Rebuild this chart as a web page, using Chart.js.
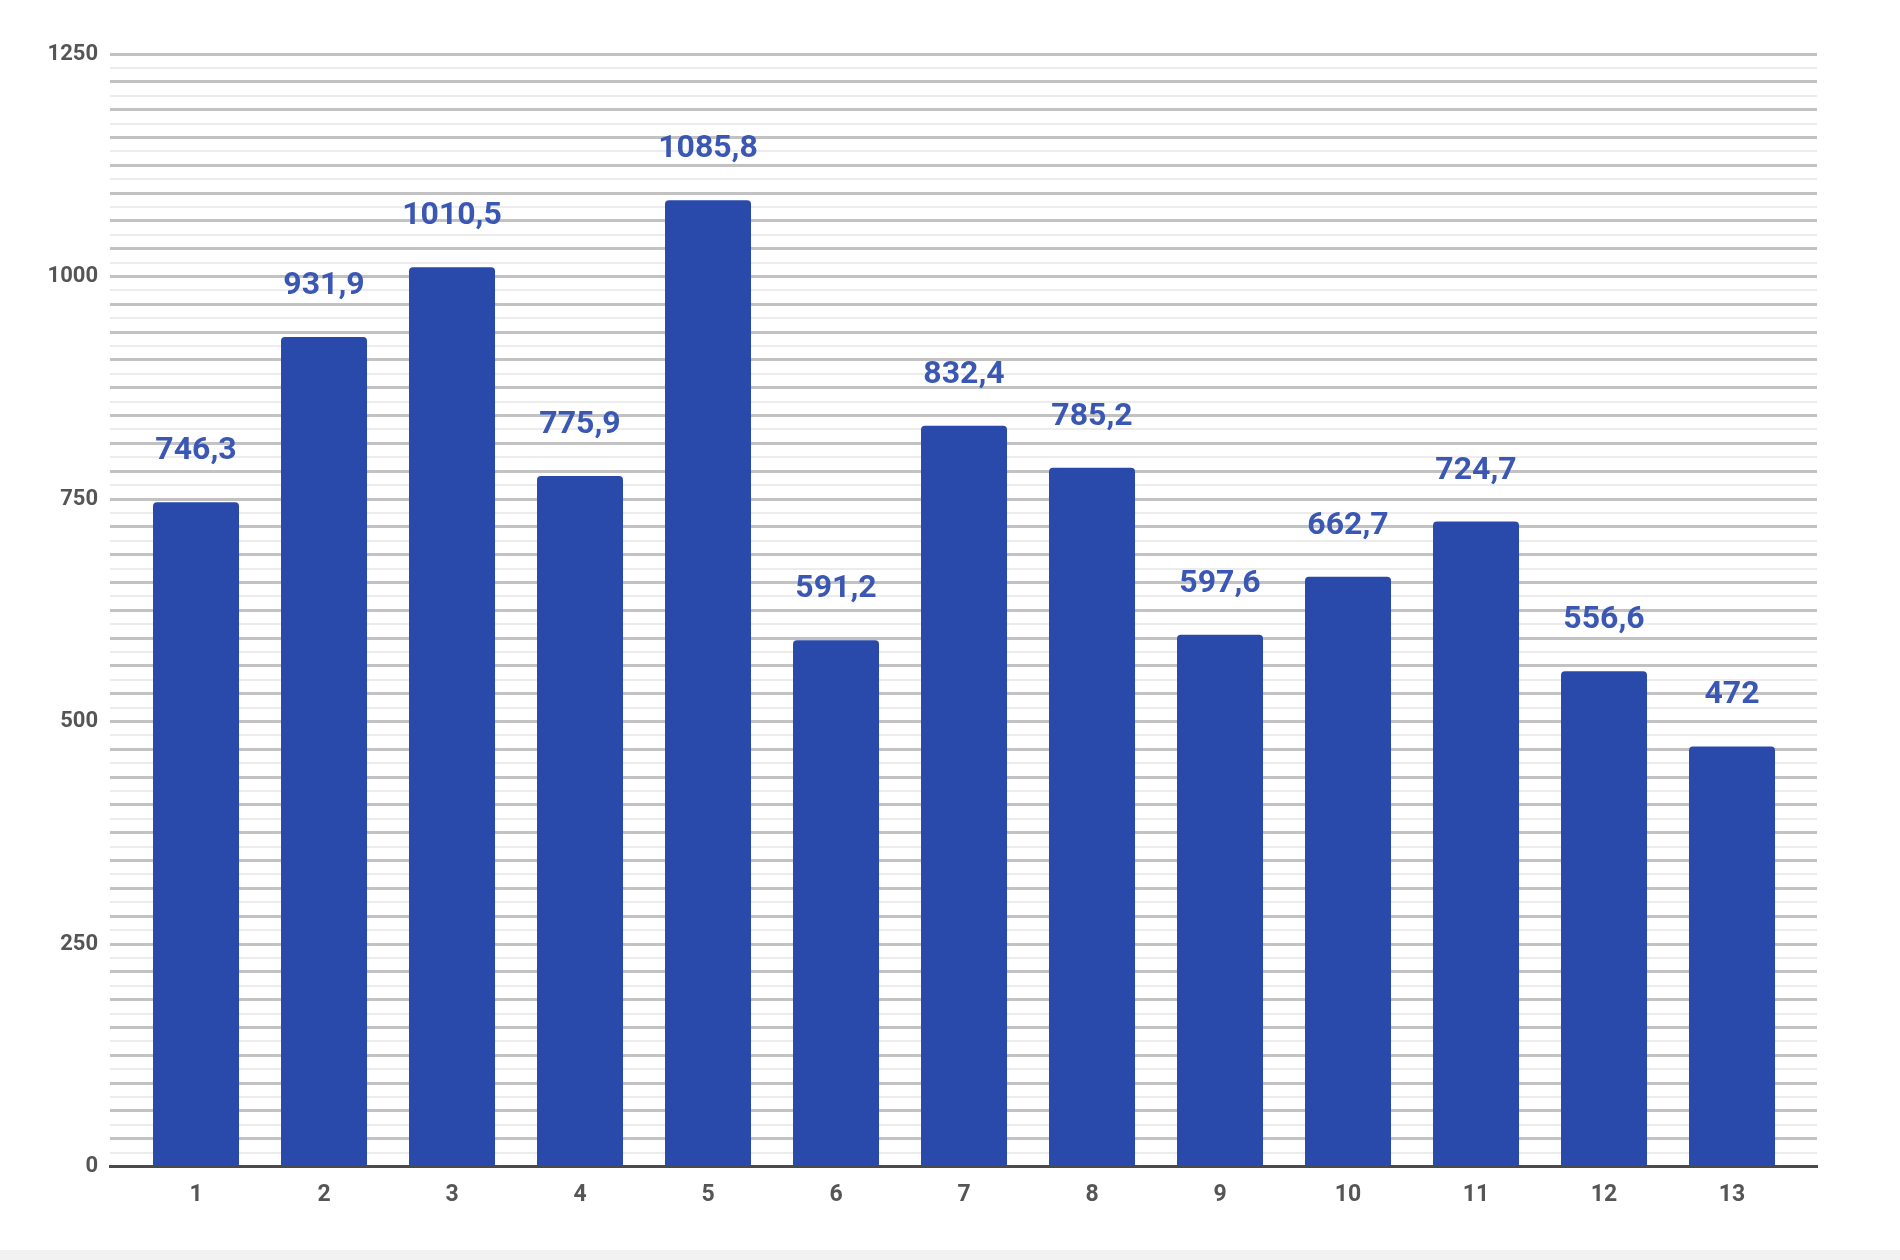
<!DOCTYPE html>
<html>
<head>
<meta charset="utf-8">
<script src="https://cdn.jsdelivr.net/npm/chart.js@4.4.1/dist/chart.umd.min.js"></script>
<style>
  html, body { margin: 0; padding: 0; background: #fff; }
  #wrap { position: relative; width: 1900px; height: 1260px; }
  #strip { position: absolute; left: 0; right: 0; bottom: 0; height: 10px; background: #f2f2f2; }
</style>
</head>
<body>
<div id="wrap">
  <canvas id="chart" width="1900" height="1260"></canvas>
  <div id="strip"></div>
</div>
<script>
// Data
const categories = ['1', '2', '3', '4', '5', '6', '7', '8', '9', '10', '11', '12', '13']
const values = [746.3, 931.9, 1010.5, 775.9, 1085.8, 591.2, 832.4, 785.2, 597.6, 662.7, 724.7, 556.6, 472]
const yTicks = [0, 250, 500, 750, 1000, 1250]

const BAR_COLOR = '#2a4aab'
const LABEL_COLOR = '#3a57b3'
const TICK_COLOR = '#555'

// value labels above the bars, comma decimal
const valueLabels = {
  id: 'valueLabels',
  afterDatasetsDraw(chart) {
    const ctx = chart.ctx
    const meta = chart.getDatasetMeta(0)
    ctx.save()
    ctx.font = 'bold 32px Roboto, sans-serif'
    ctx.fillStyle = LABEL_COLOR
    ctx.textAlign = 'center'
    ctx.textBaseline = 'middle'
    meta.data.forEach((bar, i) => {
      const txt = String(values[i]).replace('.', ',')
      ctx.fillText(txt, bar.x, bar.y - 51)
    })
    ctx.restore()
  },
}

new Chart(document.getElementById('chart'), {
  type: 'bar',
  data: {
    datasets: [{
      data: values.map((v, i) => ({ x: i + 1, y: v })),
      backgroundColor: BAR_COLOR,
      borderRadius: 4,
      borderSkipped: 'bottom',
      barPercentage: 0.672,
      categoryPercentage: 1,
    }],
  },
  options: {
    responsive: false,
    animation: false,
    layout: { padding: { top: 54, right: 83, left: 0, bottom: 0 } },
    plugins: {
      legend: { display: false },
      tooltip: { enabled: false },
    },
    scales: {
      x: {
        type: 'linear',
        offset: false,
        min: 0.328,
        max: 13.664,
        grid: { display: false, offset: false },
        border: { display: true, color: '#4a4a4a', width: 3 },
        afterBuildTicks: s => { s.ticks = categories.map((c, i) => ({ value: i + 1 })) },
        afterFit: s => { s.height = 93.5 },
        ticks: {
          autoSkip: false,
          maxRotation: 0,
          padding: 7,
          color: TICK_COLOR,
          font: { family: 'Roboto, sans-serif', size: 23, weight: 'bold' },
          callback: v => categories[v - 1],
        },
      },
      y: {
        min: 0,
        max: 1250,
        border: { display: false },
        afterFit: s => { s.width = 110 },
        grid: {
          drawTicks: false,
          color: c => (c.tick && Math.round(c.tick.value / 15.625) % 2 === 0) ? '#c2c2c2' : '#ececec',
          lineWidth: c => (c.tick && Math.round(c.tick.value / 15.625) % 2 === 0) ? 3 : 2,
        },
        ticks: {
          stepSize: 15.625,
          autoSkip: false,
          padding: 12,
          color: TICK_COLOR,
          font: { family: 'Roboto, sans-serif', size: 22, weight: 'bold' },
          callback: v => yTicks.includes(v) ? String(v) : '',
        },
      },
    },
  },
  plugins: [valueLabels],
})
</script>
</body>
</html>
